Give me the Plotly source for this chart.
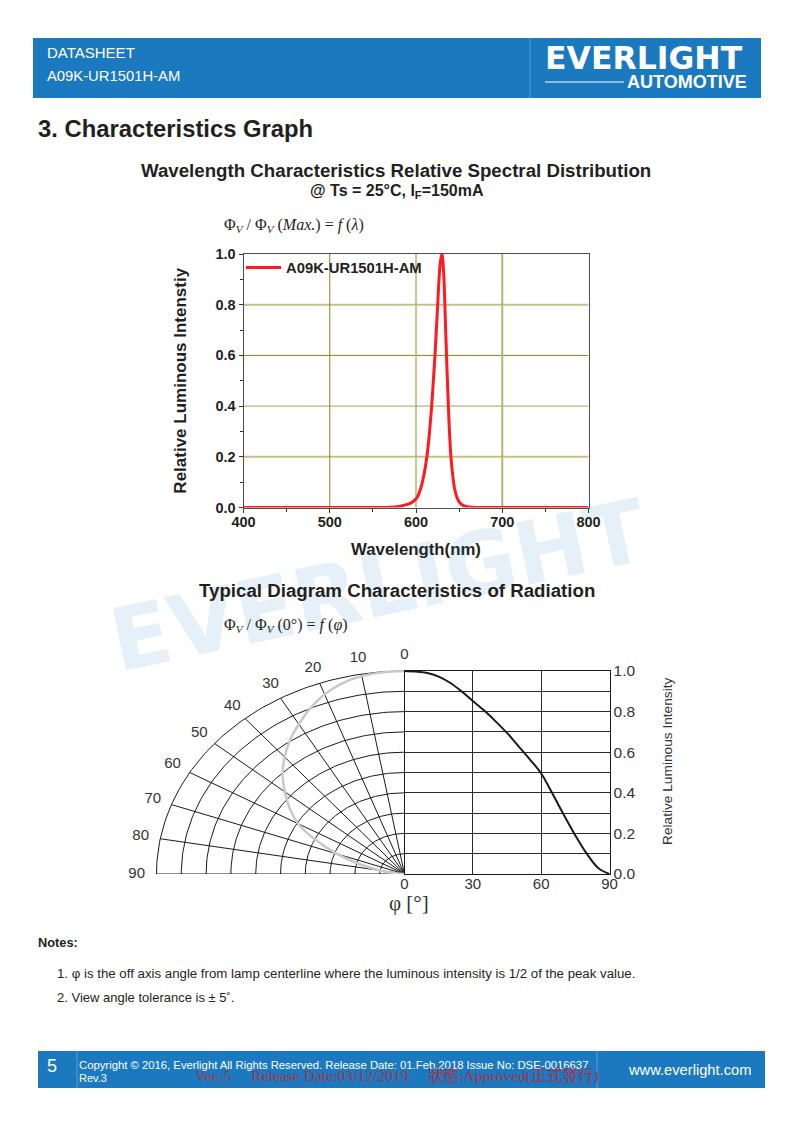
"""
A09K-UR1501H-AM datasheet page: characteristics graphs
"""
import numpy as np
import plotly.graph_objects as go

PAGE_W = 793
PAGE_H = 1123

# spectral distribution
wavelength = [400, 500, 550, 570, 580, 590, 596, 601, 605, 609, 613, 616, 619, 622, 625, 628, 630,
              632, 634, 636, 638, 640.5, 643, 645, 648, 652, 656, 662, 670, 700, 800]
spectrum = [0, 0, 0, 0.001, 0.004, 0.012, 0.022, 0.038, 0.07, 0.125, 0.21, 0.31, 0.44, 0.6, 0.79, 0.96, 1.0,
            0.93, 0.74, 0.54, 0.36, 0.2, 0.115, 0.07, 0.035, 0.014, 0.006, 0.002, 0, 0, 0]

# radiation diagram
angle_deg = [0, 5, 10, 15, 20, 25, 30, 35, 40, 45, 50, 55, 60, 65, 70, 75, 80, 85, 90]
intensity = [1.0, 0.997, 0.99, 0.972, 0.942, 0.9, 0.852, 0.805, 0.752, 0.695, 0.63, 0.565, 0.495, 0.395,
             0.29, 0.19, 0.10, 0.03, 0.0]
polar_spokes = [10, 20, 30, 40, 50, 60, 70, 80]
polar_rings = [0.1, 0.2, 0.3, 0.4, 0.5, 0.6, 0.7, 0.8, 0.9, 1.0]
polar_labels = [0, 10, 20, 30, 40, 50, 60, 70, 80, 90]

BLUE = "#1b79c0"
INK = "#231f20"
SANS = "Liberation Sans"
SERIF = "Liberation Serif"
# quarter ellipse axes run a bit past r=1 so the angle labels are kept
POLAR_PAD = 1.1


def px(x):
    return x / PAGE_W


def py(y):
    return 1 - y / PAGE_H


def box(x0, y0, x1, y1, fill):
    return dict(type="rect", xref="paper", yref="paper", x0=px(x0), x1=px(x1), y0=py(y0), y1=py(y1),
                fillcolor=fill, line_width=0, layer="below")


def rule(x0, y0, x1, y1, color, width=1):
    return dict(type="line", xref="paper", yref="paper", x0=px(x0), x1=px(x1), y0=py(y0), y1=py(y1),
                line=dict(color=color, width=width), layer="below")


def label(x, y, text, size, color=INK, anchor="left", family=SANS, weight=400, angle=0):
    return dict(x=px(x), y=py(y), xref="paper", yref="paper", text=text, showarrow=False, xanchor=anchor,
                yanchor="middle", textangle=angle, font=dict(family=family, size=size, color=color, weight=weight))


def grid_line(axis, value, color, width):
    if axis == "x":
        return dict(type="line", xref="x", yref="y", x0=value, x1=value, y0=0, y1=1,
                    line=dict(color=color, width=width), layer="below")
    return dict(type="line", xref="x", yref="y", x0=400, x1=800, y0=value, y1=value,
                line=dict(color=color, width=width), layer="below")


fig = go.Figure()

# spectrum
fig.add_trace(go.Scatter(x=wavelength, y=spectrum, mode="lines", name="A09K-UR1501H-AM",
                         line=dict(color="#fe1a1f", width=3, shape="spline"),
                         cliponaxis=False, xaxis="x", yaxis="y"))

# polar grid, quarter ellipse on its own cartesian axes
theta = np.radians(np.linspace(0, 90, 91))
grid_x, grid_y = [-1, 0, None], [0, 0, None]
for r in polar_rings:
    grid_x += list(-r * np.sin(theta)) + [None]
    grid_y += list(r * np.cos(theta)) + [None]
for a in polar_spokes:
    grid_x += [0, -np.sin(np.radians(a)), None]
    grid_y += [0, np.cos(np.radians(a)), None]
fig.add_trace(go.Scatter(x=grid_x, y=grid_y, mode="lines", line=dict(color="#1a1a1a", width=1),
                         cliponaxis=False, showlegend=False, xaxis="x2", yaxis="y2"))

rad = np.radians(angle_deg)
fig.add_trace(go.Scatter(x=-np.array(intensity) * np.sin(rad), y=np.array(intensity) * np.cos(rad),
                         mode="lines", line=dict(color="#c9c9c9", width=2.5, shape="spline"),
                         cliponaxis=False, showlegend=False, xaxis="x2", yaxis="y2"))

label_rad = np.radians(polar_labels)
fig.add_trace(go.Scatter(x=-1.08 * np.sin(label_rad), y=1.08 * np.cos(label_rad), mode="text",
                         text=[str(v) for v in polar_labels], textposition="middle center",
                         textfont=dict(family=SANS, size=15, color="#333333"),
                         cliponaxis=False, showlegend=False, xaxis="x2", yaxis="y2"))

# intensity vs angle
fig.add_trace(go.Scatter(x=angle_deg, y=intensity, mode="lines",
                         line=dict(color="#1a1a1a", width=2, shape="spline"),
                         showlegend=False, xaxis="x3", yaxis="y3"))

shapes = [
    box(33, 38, 761, 98, BLUE),
    rule(530, 38, 530, 98, "#5a9fd4"),
    rule(545, 82, 624, 82, "white"),
    box(38, 1051, 765, 1088, BLUE),
    rule(77, 1051, 77, 1088, "#5a9fd4"),
    rule(597, 1051, 597, 1088, "#5a9fd4"),
    grid_line("y", 0.8, "#c3c08a", 2),
    grid_line("y", 0.6, "#84841a", 1),
    grid_line("y", 0.4, "#a3a355", 1),
    grid_line("y", 0.2, "#c3c08a", 2),
    grid_line("x", 500, "#84841a", 1),
    grid_line("x", 600, "#b5b46c", 1.5),
    grid_line("x", 700, "#b5b46c", 2),
]

annotations = [
    label(378, 586, "EVERLIGHT", 87, color="rgba(27,121,192,0.11)", anchor="center", family="DejaVu Sans",
          weight=700, angle=-12),
    label(45, 52, "DATASHEET", 15, color="white"),
    label(45, 76, "A09K-UR1501H-AM", 14.8, color="white"),
    label(543, 58, "EVERLIGHT", 31.5, color="white", family="DejaVu Sans", weight=700),
    label(625, 82, "AUTOMOTIVE", 18, color="white", weight=700),
    label(36, 128, "3. Characteristics Graph", 23.8, weight=700),
    label(396, 171, "Wavelength Characteristics Relative Spectral Distribution", 18.7, anchor="center", weight=700),
    label(397, 191, "@ Ts = 25°C, I<sub>F</sub>=150mA", 16, anchor="center", weight=700),
    label(222, 225, "Φ<sub><i>V</i></sub> / Φ<sub><i>V</i></sub> (<i>Max.</i>) = <i>f</i> (<i>λ</i>)", 16, family=SERIF),
    label(397, 590, "Typical Diagram Characteristics of Radiation", 18.7, anchor="center", weight=700),
    label(222, 625, "Φ<sub><i>V</i></sub> / Φ<sub><i>V</i></sub> (0°) = <i>f</i> (<i>φ</i>)", 16, family=SERIF),
    label(409, 903, "φ [°]", 21, color="#333333", anchor="center", family=SERIF),
    label(667, 761, "Relative Luminous Intensity", 13.7, color="#333333", anchor="center", angle=-90),
    label(36, 942, "Notes:", 12.8, weight=700),
    label(55, 973, "1. φ is the off axis angle from lamp centerline where the luminous intensity is 1/2 of the peak value.", 13.25),
    label(55, 997, "2. View angle tolerance is ± 5˚.", 13),
    label(45, 1066, "5", 18, color="white"),
    label(77, 1065, "Copyright © 2016, Everlight All Rights Reserved. Release Date: 01.Feb.2018 Issue No: DSE-0016637", 11.3, color="white"),
    label(77, 1078, "Rev.3", 11, color="white"),
    label(193, 1076, "Ver.:5     Release Date:03/12/2019     狀態:Approved(正式發行)", 15.6, color="#a5344a", family="Liberation Serif, Noto Sans CJK TC"),
    label(626, 1070, "www.everlight.com", 14.7, color="white"),
]

fig.update_layout(
    width=PAGE_W,
    height=PAGE_H,
    margin=dict(l=0, r=0, t=0, b=0),
    paper_bgcolor="white",
    plot_bgcolor="rgba(0,0,0,0)",
    shapes=shapes,
    annotations=annotations,
    legend=dict(x=px(241), y=py(268), xanchor="left", yanchor="middle", bgcolor="rgba(0,0,0,0)",
                itemwidth=35, font=dict(family=SANS, size=14.8, color=INK, weight=700)),
    xaxis=dict(
        domain=[px(243.5), px(588.5)], range=[400, 800], anchor="y", mirror=True, automargin=False,
        showline=True, linecolor="#4d4d4d", linewidth=1, showgrid=False, zeroline=False,
        tickvals=[400, 500, 600, 700, 800], ticks="outside", ticklen=4, tickcolor="#333333",
        ticklabelstandoff=-3,
        minor=dict(tickvals=[450, 550, 650, 750], ticks="outside", ticklen=3, tickcolor="#333333"),
        tickfont=dict(family=SANS, size=14.5, color=INK, weight=700),
        title=dict(text="Wavelength(nm)", standoff=14, font=dict(family=SANS, size=16.8, color=INK, weight=700)),
    ),
    yaxis=dict(
        domain=[py(507.5), py(254)], range=[0, 1], anchor="x", mirror=True, automargin=False,
        showline=True, linecolor="#4d4d4d", linewidth=1, showgrid=False, zeroline=False,
        tickvals=[0, 0.2, 0.4, 0.6, 0.8, 1.0], tickformat=".1f", ticks="outside", ticklen=4, tickcolor="#333333",
        minor=dict(tickvals=[0.1, 0.3, 0.5, 0.7, 0.9], ticks="outside", ticklen=3, tickcolor="#333333"),
        tickfont=dict(family=SANS, size=14.5, color=INK, weight=700),
        title=dict(text="Relative Luminous Intenstiy", standoff=24, font=dict(family=SANS, size=17, color=INK, weight=700)),
    ),
    xaxis2=dict(domain=[px(404.5 - 248 * POLAR_PAD), px(404.5)], range=[-POLAR_PAD, 0], anchor="y2", automargin=False,
                showgrid=False, zeroline=False, showticklabels=False, showline=False),
    yaxis2=dict(domain=[py(874), py(874 - 203 * POLAR_PAD)], range=[0, POLAR_PAD], anchor="x2", automargin=False,
                showgrid=False, zeroline=False, showticklabels=False, showline=False),
    xaxis3=dict(
        domain=[px(404.5), px(609.5)], range=[0, 90], anchor="y3", mirror=True, automargin=False,
        showline=True, linecolor="#1a1a1a", linewidth=1, zeroline=False,
        tickvals=[0, 30, 60, 90], showgrid=True, gridcolor="#2a2a2a", gridwidth=1,
        ticklabelstandoff=-4,
        tickfont=dict(family=SANS, size=15, color="#333333"),
    ),
    yaxis3=dict(
        domain=[py(874), py(671)], range=[0, 1], anchor="x3", side="right", mirror=True, automargin=False,
        showline=True, linecolor="#1a1a1a", linewidth=1, zeroline=False,
        tickvals=[0, 0.2, 0.4, 0.6, 0.8, 1.0], tickformat=".1f", showgrid=True, gridcolor="#2a2a2a", gridwidth=1,
        minor=dict(tickvals=[0.1, 0.3, 0.5, 0.7, 0.9], showgrid=True, gridcolor="#2a2a2a", gridwidth=1),
        tickfont=dict(family=SANS, size=15.5, color="#333333"),
    ),
)

fig.write_html("out.html", config={"displayModeBar": False}, post_script="document.body.style.margin='0';")
